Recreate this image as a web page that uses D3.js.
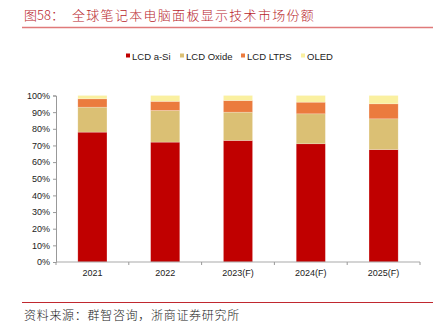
<!DOCTYPE html>
<html lang="zh">
<head>
<meta charset="UTF-8">
<title>全球笔记本电脑面板显示技术市场份额</title>
<script src="https://d3js.org/d3.v7.min.js"></script>
<style>
    body { margin: 0; background: #fff; }
    svg { display: block; }
    .tick text { font: 9px "Liberation Sans", Arial, sans-serif; fill: #222; }
    .cn { font-family: "Noto Sans CJK SC", sans-serif; font-weight: 300; }
</style>
</head>
<body>
<svg width="439" height="327"></svg>
<script>
// 数据
const years = ['2021', '2022', '2023(F)', '2024(F)', '2025(F)'];
const series = ['LCD a-Si', 'LCD Oxide', 'LCD LTPS', 'OLED'];
const aSi   = [78, 72, 73, 71, 67.5];
const oxide = [15, 19, 17, 18, 18.5];
const ltps  = [5, 5.5, 7, 7, 9];
const oled  = [2, 3.5, 3, 4, 5];
const yTicks = [0, 10, 20, 30, 40, 50, 60, 70, 80, 90, 100];
const colors = ['#c00000', '#dbc074', '#eb7b3e', '#faf0a0'];

const rows = years.map((y, i) => ({
    year: y,
    'LCD a-Si': aSi[i], 'LCD Oxide': oxide[i], 'LCD LTPS': ltps[i], 'OLED': oled[i]
}));

const svg = d3.select('svg');
const margin = { left: 56, right: 19, top: 95.5, bottom: 65 };
const W = 439, H = 327;

// 标题
svg.append('text')
    .attr('class', 'cn')
    .attr('x', 24).attr('y', 20)
    .attr('fill', '#b8242b')
    .style('font-size', '13px')
    .text('图58：');
svg.append('text')
    .attr('class', 'cn')
    .attr('x', 72).attr('y', 20)
    .attr('fill', '#b8242b')
    .style('font-size', '13px')
    .style('letter-spacing', '1.3px')
    .text('全球笔记本电脑面板显示技术市场份额');
svg.append('line')
    .attr('x1', 22).attr('x2', 433).attr('y1', 27.5).attr('y2', 27.5)
    .attr('stroke', '#e07a7a').attr('stroke-width', 1.5);

const x = d3.scaleBand()
    .domain(years)
    .range([margin.left, W - margin.right])
    .paddingInner(0.6)
    .paddingOuter(0.3);

const y = d3.scaleLinear()
    .domain([0, 100])
    .range([H - margin.bottom, margin.top]);

const stacked = d3.stack().keys(series)(rows);

svg.append('g')
    .selectAll('g')
    .data(stacked)
    .join('g')
    .attr('fill', (d, i) => colors[i])
    .selectAll('rect')
    .data(d => d)
    .join('rect')
    .attr('x', d => x(d.data.year))
    .attr('width', x.bandwidth())
    .attr('y', d => y(d[1]))
    .attr('height', d => y(d[0]) - y(d[1]))
    .attr('stroke', 'rgba(255,255,255,0.35)')
    .attr('stroke-width', 0.6);

// 坐标轴
const yAxis = svg.append('g')
    .attr('transform', `translate(${margin.left},0)`)
    .call(d3.axisLeft(y).tickValues(yTicks).tickFormat(d => d + '%').tickSize(3).tickPadding(3));
yAxis.select('.domain').attr('stroke', '#999');
yAxis.selectAll('.tick line').attr('stroke', '#999');

const xAxis = svg.append('g')
    .attr('transform', `translate(0,${y(0)})`)
    .call(d3.axisBottom(x).tickSize(0).tickPadding(8));
xAxis.select('.domain').remove();
xAxis.append('line')
    .attr('x1', margin.left).attr('x2', W - margin.right)
    .attr('stroke', '#aaa').attr('stroke-width', 1.2);
xAxis.selectAll('.sep')
    .data(d3.range(years.length + 1))
    .join('line')
    .attr('class', 'sep')
    .attr('x1', i => margin.left + i * (W - margin.right - margin.left) / years.length)
    .attr('x2', i => margin.left + i * (W - margin.right - margin.left) / years.length)
    .attr('y1', 0).attr('y2', 3)
    .attr('stroke', '#999');

// 图例
const legend = svg.append('g').attr('transform', 'translate(126,57)');
const legendX = [0, 54, 115, 175];
series.forEach((s, i) => {
    const g = legend.append('g').attr('transform', `translate(${legendX[i]},0)`);
    g.append('rect').attr('x', 0).attr('y', -3.5).attr('width', 4).attr('height', 4).attr('fill', colors[i]);
    g.append('text')
        .attr('x', 6).attr('y', 3)
        .style('font', '9.5px "Liberation Sans", Arial, sans-serif')
        .attr('fill', '#222')
        .text(s);
});

// 资料来源
svg.append('line')
    .attr('x1', 22).attr('x2', 433).attr('y1', 302.5).attr('y2', 302.5)
    .attr('stroke', '#c0282f').attr('stroke-width', 1);
svg.append('text')
    .attr('class', 'cn')
    .attr('x', 24).attr('y', 320)
    .attr('fill', '#222')
    .style('font-size', '12px')
    .style('letter-spacing', '0.7px')
    .text('资料来源：群智咨询，浙商证券研究所');
</script>
</body>
</html>
